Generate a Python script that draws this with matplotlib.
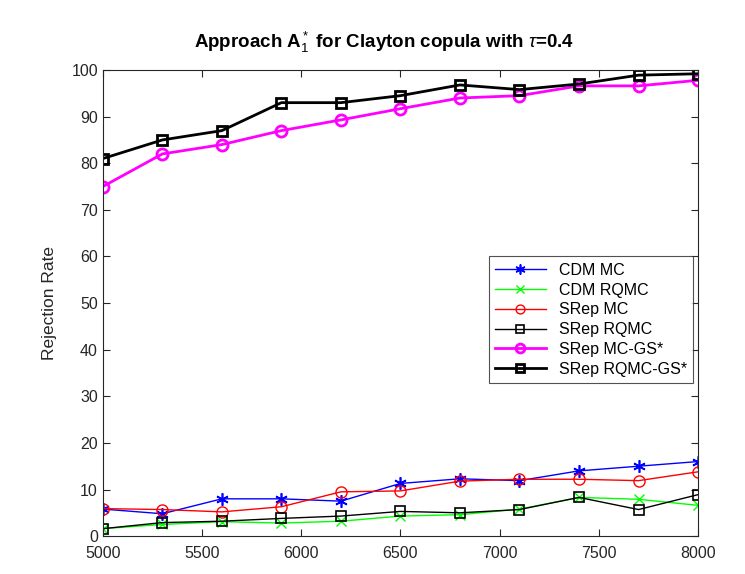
import matplotlib.pyplot as plt
import numpy as np

plt.rcParams['font.family'] = ['Liberation Sans', 'DejaVu Sans']
plt.rcParams['mathtext.fontset'] = 'custom'
plt.rcParams['mathtext.rm'] = 'Liberation Sans'
plt.rcParams['mathtext.it'] = 'Liberation Sans:italic'
plt.rcParams['mathtext.bf'] = 'Liberation Sans:bold'

# sample sizes
n = [5000, 5300, 5600, 5900, 6200, 6500, 6800, 7100, 7400, 7700, 8000]

# rejection rates (%)
cdm_mc = [5.8, 4.8, 8.0, 8.0, 7.5, 11.3, 12.3, 11.9, 14.0, 15.0, 16.0]
cdm_rqmc = [1.6, 2.5, 3.1, 2.8, 3.2, 4.3, 4.6, 5.8, 8.3, 7.9, 6.6]
srep_mc = [5.9, 5.7, 5.2, 6.3, 9.5, 9.7, 11.8, 12.2, 12.2, 11.9, 13.8]
srep_rqmc = [1.6, 2.9, 3.2, 3.8, 4.3, 5.3, 5.0, 5.7, 8.3, 5.7, 8.9]
srep_mc_gs = [75.0, 82.0, 84.0, 87.0, 89.3, 91.7, 94.0, 94.5, 96.6, 96.6, 97.8]
srep_rqmc_gs = [81.0, 85.0, 87.0, 93.0, 93.0, 94.5, 96.8, 95.8, 97.0, 98.9, 99.2]

fig = plt.figure(figsize=(7.45, 5.74), dpi=100)
ax = fig.add_axes([0.138, 0.066, 0.799, 0.812])

star = (6, 2, 0)  # asterisk like matlab '*'
ax.plot(n, cdm_mc, color='blue', lw=1, marker=star, ms=9, mew=1.2, label='CDM MC')
ax.plot(n, cdm_rqmc, color='#00ff00', lw=1, marker='x', ms=6.5, mew=1, label='CDM RQMC')
ax.plot(n, srep_mc, color='red', lw=1, marker='o', ms=8, mfc='none', mew=1, label='SRep MC')
ax.plot(n, srep_rqmc, color='black', lw=1, marker='s', ms=6.5, mfc='none', mew=1.2, label='SRep RQMC')
ax.plot(n, srep_mc_gs, color='magenta', lw=2, marker='o', ms=8, mfc='none', mew=2, label='SRep MC-GS*')
ax.plot(n, srep_rqmc_gs, color='black', lw=2, marker='s', ms=7, mfc='none', mew=2, label='SRep RQMC-GS*')

ax.set_xlim(5000, 8000)
ax.set_ylim(0, 100)
ax.set_xticks(np.arange(5000, 8001, 500))
ax.set_yticks(np.arange(0, 101, 10))
ax.tick_params(direction='in', top=True, right=True, labelsize=11.5, colors='#262626', length=5)
ax.tick_params(axis='x', pad=7)
for s in ax.spines.values():
    s.set_color('#262626')
    s.set_linewidth(0.8)

ax.set_ylabel('Rejection Rate', fontsize=12.5, color='#262626', labelpad=10)
ax.set_title(r'Approach A$_1^*$ for Clayton copula with $\tau$=0.4', fontsize=13.5,
             fontweight='bold', pad=16, x=0.472)

leg = ax.legend(loc='upper right', bbox_to_anchor=(0.992, 0.6), borderaxespad=0, fancybox=False,
                edgecolor='#262626', fontsize=11.5, handlelength=3.2, labelspacing=0.3,
                borderpad=0.4, numpoints=1, markerscale=0.8)
leg.get_frame().set_linewidth(0.8)

plt.savefig('out.png', dpi=100)
